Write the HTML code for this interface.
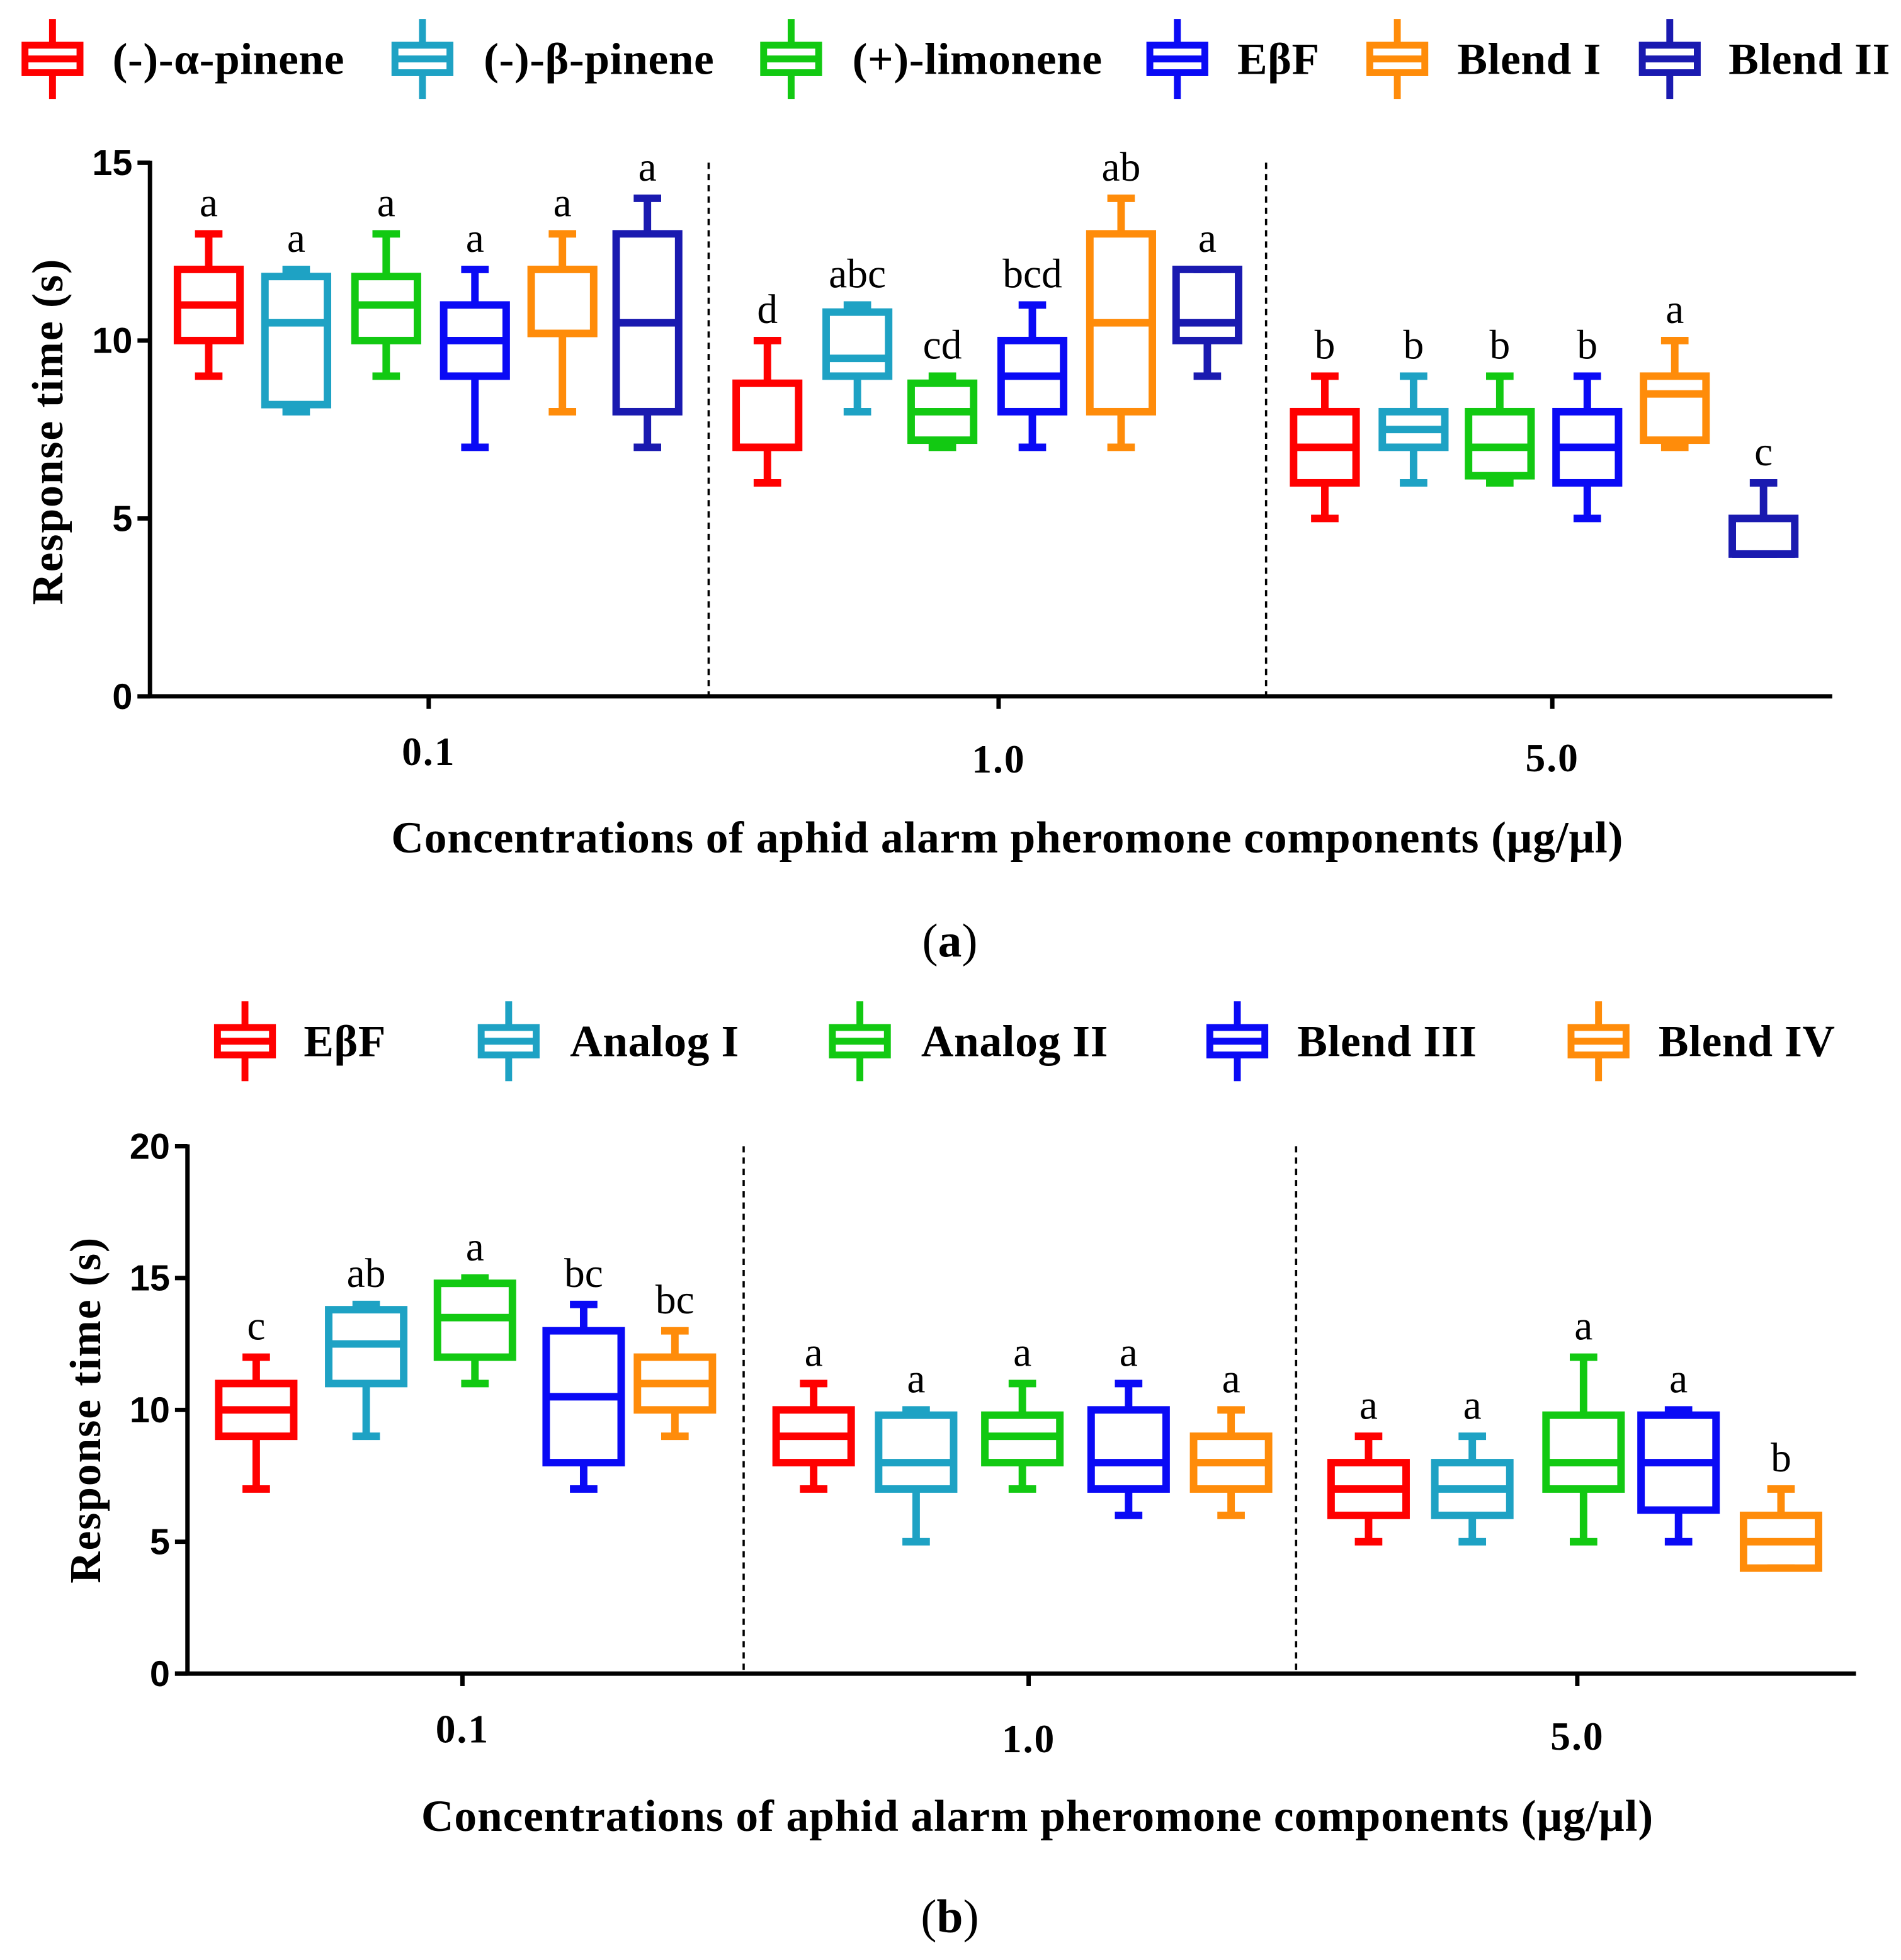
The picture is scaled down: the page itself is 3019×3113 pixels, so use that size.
<!DOCTYPE html>
<html><head><meta charset="utf-8"><style>
html,body{margin:0;padding:0;background:#fff;}
svg{display:block;}
.serif{font-family:"Liberation Serif",serif;}
.sans{font-family:"Liberation Sans",sans-serif;}
</style></head><body>
<svg id="fig" width="3019" height="3113" viewBox="0 0 1521 1568" xmlns="http://www.w3.org/2000/svg">
<g id="pa"></g>
<g id="pb"></g>
</svg>
<script>
const colorsA = ['#ff0000','#1ea2c4','#12c912','#0a0af5','#ff8c0a','#1a1ab0'];
const namesA = ['(-)-α-pinene','(-)-β-pinene','(+)-limonene','EβF','Blend I','Blend II'];
const groupsA = ['0.1','1.0','5.0'];
// [min,q1,median,q3,max] per group per series
const statsA = [
 [[9,10,11,12,13],[8,8.2,10.5,11.8,12],[9,10,11,11.8,13],[7,9,10,11,12],[8,10.2,10.2,12,13],[7,8,10.5,13,14]],
 [[6,7,7,8.8,10],[8,9,9.5,10.8,11],[7,7.2,8,8.8,9],[7,8,9,10,11],[7,8,10.5,13,14],[9,10,10.5,12,12]],
 [[5,6,7,8,9],[6,7,7.5,8,9],[6,6.2,7,8,9],[5,6,7,8,9],[7,7.2,8.5,9,10],[4,4,4,5,6]]
];
const lettersA = [['a','a','a','a','a','a'],['d','abc','cd','bcd','ab','a'],['b','b','b','b','a','c']];
const ticksA = [0,5,10,15];

const colorsB = ['#ff0000','#1ea2c4','#12c912','#0a0af5','#ff8c0a'];
const namesB = ['EβF','Analog I','Analog II','Blend III','Blend IV'];
const groupsB = ['0.1','1.0','5.0'];
const statsB = [
 [[7,9,10,11,12],[9,11,12.5,13.8,14],[11,12,13.5,14.8,15],[7,8,10.5,13,14],[9,10,11,12,13]],
 [[7,8,9,10,11],[5,7,8,9.8,10],[7,8,9,9.8,11],[6,7,8,10,11],[6,7,8,9,10]],
 [[5,6,7,8,9],[5,6,7,8,9],[5,7,8,9.8,12],[5,6.2,8,9.8,10],[4,4,5,6,7]]
];
const lettersB = [['c','ab','a','bc','bc'],['a','a','a','a','a'],['a','a','a','a','b']];
const ticksB = [0,5,10,15,20];

const NS='http://www.w3.org/2000/svg';
function mk(parent,tag,attrs,text){const e=document.createElementNS(NS,tag);for(const k in attrs)e.setAttribute(k,attrs[k]);if(text!==undefined)e.textContent=text;parent.appendChild(e);return e;}

function drawPanel(g,cfg){
  const {colors,names,groups,stats,letters,ticks,ymax,y0,yTop,axX,xEnd,boxX,bw,catX,catY,divX,legY,legIcon,legText,titleX,titleY,ttl,ttlY,panelLabel,panelY} = cfg;
  const ys = v => y0 - (y0-yTop)*v/ymax;
  names.forEach((n,i)=>{
    const lg=mk(g,'g',{});
    
    
    const cx=legIcon[i], c=colors[i];
    const ic=mk(lg,'g',{stroke:c,fill:'none','stroke-width':5.5});
    
    
    mk(ic,'line',{x1:cx,x2:cx,y1:legY-32,y2:legY+32});
    mk(ic,'rect',{x:cx-22,y:legY-11,width:44,height:22,fill:'#fff'});
    mk(ic,'line',{x1:cx-22,x2:cx+22,y1:legY,y2:legY});
    const t=mk(lg,'text',{x:legText[i],y:legY+12,'font-size':36,'font-weight':'bold',class:'serif','letter-spacing':0.3},n);
    
    
  });
  const ax=mk(g,'g',{stroke:'#000','stroke-width':3.5,fill:'none'});
  
  
  mk(ax,'line',{x1:axX,x2:axX,y1:yTop-1.5,y2:y0+1.5});
  mk(ax,'line',{x1:axX-10,x2:xEnd,y1:y0,y2:y0});
  ticks.forEach(v=>{
    const y=ys(v);
    mk(ax,'line',{x1:axX-10,x2:axX,y1:y,y2:y});
    const t=mk(g,'text',{x:axX-14,y:y+10,'font-size':29,'font-weight':'bold','text-anchor':'end',class:'sans'},String(v));
    
    
  });
  groups.forEach((gl,i)=>{
    mk(ax,'line',{x1:catX[i],x2:catX[i],y1:y0,y2:y0+10});
    const t=mk(g,'text',{x:catX[i],y:catY[i],'font-size':32,'font-weight':'bold','text-anchor':'middle',class:'serif','letter-spacing':1},gl);
    
    
  });
  divX.forEach(x=>{
    const d=mk(g,'line',{x1:x,x2:x,y1:yTop,y2:y0,stroke:'#000','stroke-width':1.8,'stroke-dasharray':'5,4'});
    
    
  });
  stats.forEach((grp,gi)=>{
    grp.forEach((s,si)=>{
      const cx=boxX[gi][si], c=colors[si];
      const bg=mk(g,'g',{stroke:c,fill:'none','stroke-width':6});
      
      
      const [mn,q1,md,q3,mx]=s;
      mk(bg,'line',{x1:cx,x2:cx,y1:ys(mx),y2:ys(q3)});
      mk(bg,'line',{x1:cx,x2:cx,y1:ys(q1),y2:ys(mn)});
      mk(bg,'line',{x1:cx-11,x2:cx+11,y1:ys(mx),y2:ys(mx)});
      mk(bg,'line',{x1:cx-11,x2:cx+11,y1:ys(mn),y2:ys(mn)});
      mk(bg,'rect',{x:cx-bw/2,y:ys(q3),width:bw,height:Math.max(ys(q1)-ys(q3),0.1)});
      mk(bg,'line',{x1:cx-bw/2,x2:cx+bw/2,y1:ys(md),y2:ys(md)});
      const t=mk(g,'text',{x:cx,y:ys(mx)-14,'font-size':33,'text-anchor':'middle',class:'serif'},letters[gi][si]);
      
      
    });
  });
  const yt=mk(g,'text',{x:0,y:0,'font-size':35,'font-weight':'bold','text-anchor':'middle',class:'serif','letter-spacing':1,transform:`translate(${titleX},${titleY}) rotate(-90)`},'Response time (s)');
  
  
  const xt=mk(g,'text',{x:cfg.ttlX,y:ttlY,'font-size':36,'font-weight':'bold','text-anchor':'middle',class:'serif','letter-spacing':0.45},ttl);
  
  
  const pl=mk(g,'text',{x:760,y:panelY,'font-size':38,'text-anchor':'middle',class:'serif'});
  
  
  mk(pl,'tspan',{},'(');
  mk(pl,'tspan',{'font-weight':'bold'},panelLabel);
  mk(pl,'tspan',{},')');
}

const T='Concentrations of aphid alarm pheromone components (μg/μl)';
drawPanel(document.getElementById('pa'),{
  colors:colorsA,names:namesA,groups:groupsA,stats:statsA,letters:lettersA,ticks:ticksA,ymax:15,
  y0:557,yTop:130,axX:120,xEnd:1466,bw:50,
  boxX:[[167,237,309,380,450,518],[614,686,754,826,897,966],[1060,1131,1200,1270,1340,1411]],
  catX:[343,799,1242],catY:[612,618,617],divX:[567,1013],
  legY:47,legIcon:[42,338,633,942,1118,1336],legText:[90,387,682,990,1166,1383],
  titleX:50,titleY:345,ttl:T,ttlX:806,ttlY:682,panelLabel:'a',panelY:765
});
drawPanel(document.getElementById('pb'),{
  colors:colorsB,names:namesB,groups:groupsB,stats:statsB,letters:lettersB,ticks:ticksB,ymax:20,
  y0:1339,yTop:917,axX:150,xEnd:1485,bw:60,
  boxX:[[205,293,380,467,540],[651,733,818,903,985],[1095,1178,1267,1343,1425]],
  catX:[370,823,1262],catY:[1394,1402,1400],divX:[595,1037],
  legY:833,legIcon:[196,407,688,990,1279],legText:[243,456,737,1038,1327],
  titleX:80,titleY:1128,ttl:T,ttlX:830,ttlY:1465,panelLabel:'b',panelY:1546
});
</script>
</body></html>
